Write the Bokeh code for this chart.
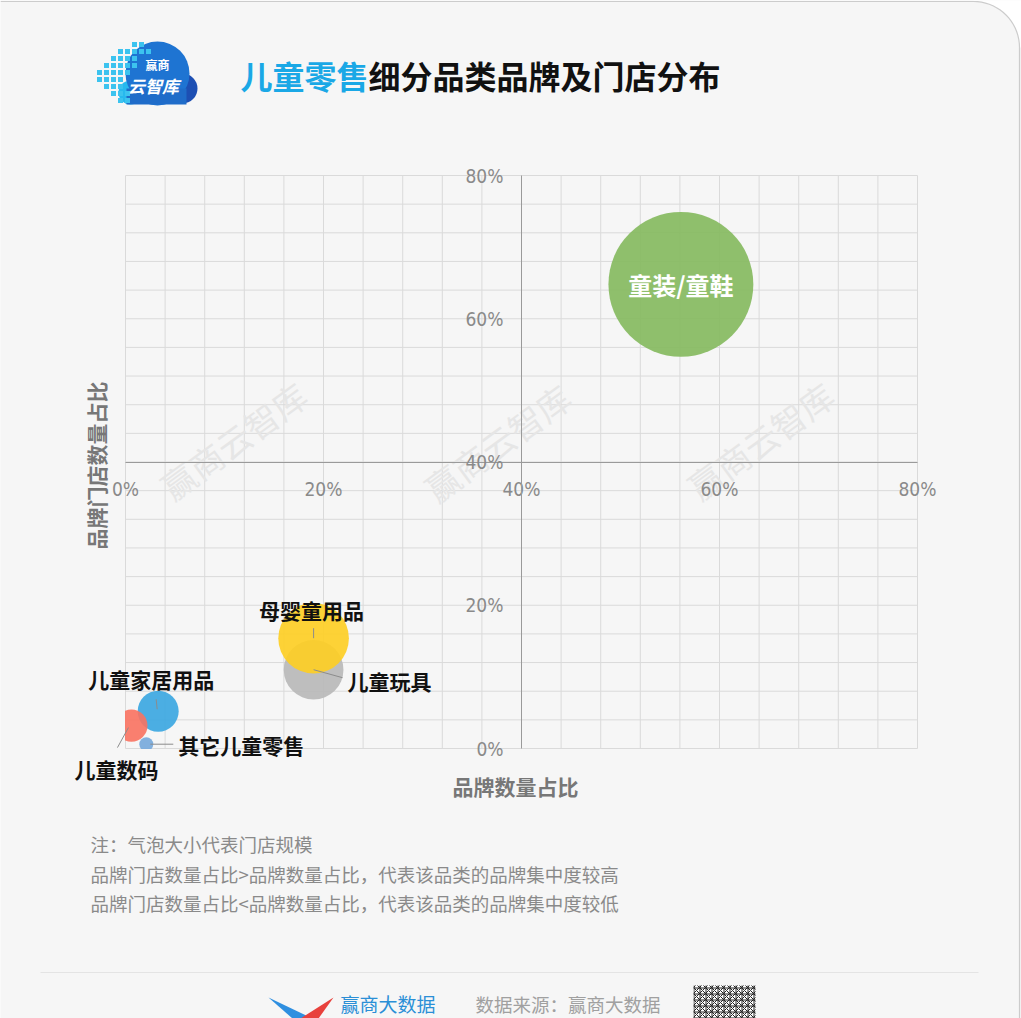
import math
from bokeh.plotting import figure
from bokeh.models import LinearAxis, FixedTicker, Range1d, ColumnDataSource
from bokeh.core.properties import value
from bokeh.embed import file_html
from bokeh.resources import INLINE

# ---------------- data ----------------
categories = ["童装/童鞋", "儿童玩具", "母婴童用品", "儿童家居用品", "儿童数码", "其它儿童零售"]
brand_share = [56.1, 19.0, 19.0, 3.3, 0.6, 2.1]      # 品牌数量占比 (%)
store_share = [64.8, 11.0, 15.4, 5.2, 3.2, 0.6]      # 品牌门店数量占比 (%)
axis_ticks = [0, 20, 40, 60, 80]
tick_labels = ["0%", "20%", "40%", "60%", "80%"]
title_hi = "儿童零售"
title_rest = "细分品类品牌及门店分布"
x_title = "品牌数量占比"
y_title = "品牌门店数量占比"
notes = ["注：气泡大小代表门店规模",
         "品牌门店数量占比>品牌数量占比，代表该品类的品牌集中度较高",
         "品牌门店数量占比<品牌数量占比，代表该品类的品牌集中度较低"]

# ---------------- styles ----------------
colors = ["#84b95d", "#b8b8b8", "#fece21", "#38a6e1", "#fa7260", "#76a9db"]
BG = "#f6f6f6"
CJK = value("Noto Sans CJK SC")

W, H = 1021, 1018
PX0, PY0 = 0, 0                 # page offset of the canvas
X0P, X80P = 125, 917            # page x of 0% and 80%
Y0P, Y80P = 748, 175            # page y of 0% and 80%
sx = (X80P - X0P) / 80.0
sy = (Y0P - Y80P) / 80.0


def X(px):
    return (px - X0P) / sx


def Y(py):
    return (Y0P - py) / sy


p = figure(width=W, height=H,
           x_range=Range1d(X(PX0), X(PX0 + W)),
           y_range=Range1d(Y(PY0 + H), Y(PY0)),
           output_backend="svg", toolbar_location=None,
           x_axis_location=None, y_axis_location=None,
           min_border=0, title=None,
           background_fill_color=BG, border_fill_color=BG,
           outline_line_color=None)
p.xgrid.visible = False
p.ygrid.visible = False

# grid every 4% (drawn within 0..80 only)
grid_ticks = list(range(0, 81, 4))
n = len(grid_ticks)
p.segment(grid_ticks, [0] * n, grid_ticks, [80] * n, line_color="#dadada", line_width=1)
p.segment([0] * n, grid_ticks, [80] * n, grid_ticks, line_color="#dadada", line_width=1)

overrides = dict(zip(axis_ticks, tick_labels))
axis_style = dict(ticker=FixedTicker(ticks=axis_ticks), fixed_location=40, bounds=(0, 80),
                  major_label_overrides=overrides, axis_line_color="#9a9a9a",
                  major_tick_line_color=None, minor_tick_line_color=None,
                  major_tick_out=0, major_tick_in=0,
                  major_label_text_font="DejaVu Sans Condensed",
                  major_label_text_font_size="19px",
                  major_label_text_color="#8a8a8a")
xa = LinearAxis(major_label_standoff=16, **axis_style)
ya = LinearAxis(major_label_standoff=18, **axis_style)
p.add_layout(xa, "below")
p.add_layout(ya, "left")

# watermarks
wm_x = [X(233), X(497), X(760)]
wm_y = [Y(440), Y(442), Y(440)]
p.text(wm_x, wm_y, text=["赢商云智库"] * 3, angle=0.63, text_font=CJK,
       text_font_size="34px", text_color="#e6e6e6", text_align="center",
       text_baseline="middle")

# bubbles: area proportional to store share
sizes = [2 * 9.0 * math.sqrt(v) for v in store_share]
src = ColumnDataSource(dict(x=brand_share, y=store_share, size=sizes, color=colors, name=categories))
p.scatter("x", "y", size="size", source=src, fill_color="color", fill_alpha=0.9, line_color=None)

# clip bubbles to the plotting area (x<0, y<0)
p.quad(left=[X(PX0), X(X0P - 0.5)], right=[X(X0P - 0.5), X(X80P + 5)],
       bottom=[Y(Y0P + 30), Y(Y0P + 30)], top=[Y(Y80P - 5), Y(Y0P + 0.5)],
       fill_color=BG, line_color=None)

# leader lines (pixel offsets from bubble centre)
lead = {"儿童玩具": (0, 0, 29, 8), "母婴童用品": (0, -10, 0, 0),
        "儿童家居用品": (-2, -12, -1, -2), "儿童数码": (-3, 2, -14, 22),
        "其它儿童零售": (4, 0, 27, 0)}
x0s, y0s, x1s, y1s = [], [], [], []
for c, bx, by in zip(categories, brand_share, store_share):
    if c in lead:
        a, b, cc, d = lead[c]
        x0s.append(bx + a / sx); y0s.append(by - b / sy)
        x1s.append(bx + cc / sx); y1s.append(by - d / sy)
p.segment(x0s, y0s, x1s, y1s, line_color="#8c8c8c", line_width=1)

# bubble labels
lab_off = {"童装/童鞋": (0, 0, "center"), "儿童玩具": (34, 11, "left"),
           "母婴童用品": (-2, -28, "center"), "儿童家居用品": (-7, -32, "center"),
           "儿童数码": (-15, 43, "center"), "其它儿童零售": (32, 1, "left")}
lx, ly, la, lc, lsz = [], [], [], [], []
for c, bx, by in zip(categories, brand_share, store_share):
    dx, dy, al = lab_off[c]
    lx.append(bx + dx / sx); ly.append(by - dy / sy); la.append(al)
    lc.append("#ffffff" if c == "童装/童鞋" else "#111111")
    lsz.append("24px" if c == "童装/童鞋" else "21px")
p.text(lx, ly, text=categories, text_align=la, text_color=lc, text_font_size=lsz,
       text_font=CJK, text_font_style="bold", text_baseline="middle")

# axis titles
p.text([X(515)], [Y(785)], text=[x_title], text_font=CJK, text_font_style="bold",
       text_font_size="21px", text_color="#777777", text_align="center", text_baseline="middle")
p.text([X(95)], [Y(465)], text=[y_title], angle=math.pi / 2, text_font=CJK, text_font_style="bold",
       text_font_size="21px", text_color="#777777", text_align="center", text_baseline="middle")

# title
p.text([X(240)], [Y(74)], text=[title_hi], text_font=CJK, text_font_style="bold",
       text_font_size="32px", text_color="#1aa8e6", text_align="left", text_baseline="middle")
p.text([X(368)], [Y(74)], text=[title_rest], text_font=CJK, text_font_style="bold",
       text_font_size="32px", text_color="#111111", text_align="left", text_baseline="middle")

# cloud logo
p.scatter([X(130), X(182), X(157)], [Y(92), Y(88), Y(73)], size=[24, 30, 64],
          fill_color=["#27b9ee", "#1d4fb3", "#1e74d2"], line_color=None)
p.quad(left=[X(126)], right=[X(186)], bottom=[Y(104)], top=[Y(88)], fill_color="#1f6cc9", line_color=None)
sq_rows = [(44, [134, 141]), (51, [120, 127, 134, 141, 148]), (58, [113, 120, 127, 134]),
           (65, [106, 113, 120, 127, 134]), (72, [99, 106, 113, 120, 127]),
           (79, [99, 106, 113, 120]), (86, [106, 113, 120]), (93, [113, 120, 127]), (100, [120, 127])]
sqx, sqy = [], []
for yy, xs in sq_rows:
    for xx in xs:
        sqx.append(X(xx)); sqy.append(Y(yy))
p.scatter(sqx, sqy, marker="square", size=5, fill_color="#3cc3ef", line_color=None)
p.text([X(157)], [Y(64)], text=["赢商"], text_font=CJK, text_font_style="bold", text_font_size="12px",
       text_color="white", text_align="center", text_baseline="middle")
p.text([X(153)], [Y(85)], text=["云智库"], text_font=CJK, text_font_style="bold italic",
       text_font_size="17px", text_color="white", text_align="center", text_baseline="middle")

# notes
p.text([X(90)] * 3, [Y(843), Y(873), Y(902)], text=notes, text_font=CJK, text_font_size="18.5px",
       text_color="#8a8a8a", text_align="left", text_baseline="middle")

# footer
p.segment([X(40)], [Y(972)], [X(978)], [Y(972)], line_color="#e4e4e4", line_width=1)
p.patch([X(268), X(312), X(292)], [Y(997), Y(1018), Y(1018)], fill_color="#2f8fe0", line_color=None)
p.patch([X(333), X(300), X(318)], [Y(997), Y(1018), Y(1018)], fill_color="#e8413c", line_color=None)
p.text([X(340)], [Y(1003)], text=["赢商大数据"], text_font=CJK, text_font_size="19px",
       text_color="#2b8fd6", text_align="left", text_baseline="middle")
p.text([X(475)], [Y(1003)], text=["数据来源：赢商大数据"], text_font=CJK, text_font_size="18.5px",
       text_color="#a0a0a0", text_align="left", text_baseline="middle")
p.quad(left=[X(693)], right=[X(755)], bottom=[Y(1018)], top=[Y(985)], fill_color="white",
       hatch_pattern="criss_cross", hatch_color="#222222", hatch_scale=6, line_color=None)

# card border with rounded top-right corner
R = 46
cxp, cyp = 1019 - R, 1 + R
arc_x = [cxp + R * math.cos(math.radians(a)) for a in range(90, -1, -5)]
arc_y = [cyp - R * math.sin(math.radians(a)) for a in range(90, -1, -5)]
p.patch([X(v) for v in [cxp, 1021, 1021] + arc_x[::-1]],
        [Y(v) for v in [-1, -1, cyp] + arc_y[::-1]],
        fill_color="white", line_color=None)
p.line([X(v) for v in [0] + arc_x + [1019]], [Y(v) for v in [1] + arc_y + [1018]],
       line_color="#cccccc", line_width=1.2)

open("out.html", "w").write(file_html(p, INLINE))
